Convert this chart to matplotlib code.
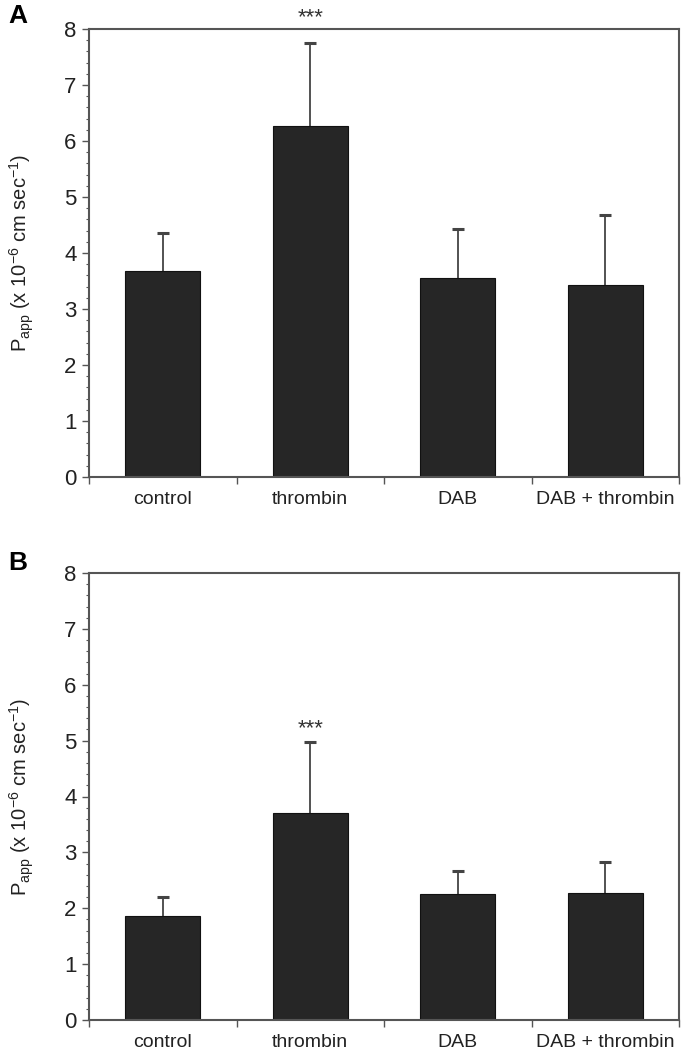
import matplotlib
matplotlib.use("Agg")
import matplotlib.pyplot as plt
from matplotlib.ticker import MultipleLocator, FixedLocator, NullFormatter
import numpy as np

plt.rcParams['font.family'] = ['Liberation Sans', 'DejaVu Sans']

categories = ["control", "thrombin", "DAB", "DAB + thrombin"]
means_A = [3.68, 6.27, 3.55, 3.43]
err_A = [0.67, 1.48, 0.87, 1.25]
means_B = [1.87, 3.70, 2.25, 2.27]
err_B = [0.33, 1.28, 0.42, 0.55]
sig_A = ["", "***", "", ""]
sig_B = ["", "***", "", ""]
yticks = [0, 1, 2, 3, 4, 5, 6, 7, 8]

W, H = 689, 1058
fig = plt.figure(figsize=(W / 100, H / 100), dpi=100)

spine_col = "#555555"
bar_col = "#262626"


def panel(rect, means, errs, sigs, sig_y):
    ax = fig.add_axes(rect)
    x = np.arange(len(categories))
    ax.bar(x, means, width=0.51, color=bar_col, edgecolor="#111111", linewidth=0.8, zorder=2)
    _, caps, _ = ax.errorbar(x, means, yerr=[np.zeros(len(errs)), errs], fmt="none",
                             ecolor="#444444", elinewidth=1.3, capsize=4, capthick=2.2, zorder=1)
    caps[0].set_visible(False)
    for xi, s in zip(x, sigs):
        if s:
            ax.text(xi, sig_y, s, ha="center", va="center", fontsize=16,
                    color="#333333", clip_on=False)
    ax.set_xlim(-0.5, len(categories) - 0.5)
    ax.set_ylim(0, 8)
    ax.set_yticks(yticks)
    ax.yaxis.set_minor_locator(MultipleLocator(0.2))
    ax.xaxis.set_major_locator(FixedLocator(np.arange(-0.5, len(categories) + 0.5, 1)))
    ax.xaxis.set_major_formatter(NullFormatter())
    ax.xaxis.set_minor_locator(FixedLocator(x))
    ax.set_xticklabels(categories, minor=True)
    ax.tick_params(axis="x", which="minor", length=0, labelsize=14, pad=10, labelcolor="#222222")
    ax.tick_params(axis="x", which="major", length=5, width=1, color=spine_col)
    ax.tick_params(axis="y", which="major", length=5, width=1, color=spine_col,
                   labelsize=16, pad=4, labelcolor="#222222")
    ax.tick_params(axis="y", which="minor", length=2.5, width=0.8, color=spine_col)
    for sp in ax.spines.values():
        sp.set_color(spine_col)
        sp.set_linewidth(1.5)
    ax.set_ylabel(r"P$_{\mathregular{app}}$ (x 10$^{\mathregular{-6}}$ cm sec$^{\mathregular{-1}}$)",
                  fontsize=14.5, labelpad=20, color="#222222")
    return ax


def rect_px(l, t, r, b):
    return [l / W, 1 - b / H, (r - l) / W, (b - t) / H]

panel(rect_px(89, 29, 679, 477), means_A, err_A, sig_A, 8.2)
panel(rect_px(89, 573, 679, 1020), means_B, err_B, sig_B, 5.22)

fig.text(8 / W, 1 - 16 / H, "A", fontsize=19, fontweight="bold", va="center", ha="left")
fig.text(8 / W, 1 - 563 / H, "B", fontsize=19, fontweight="bold", va="center", ha="left")

fig.savefig("out.png", dpi=100)
